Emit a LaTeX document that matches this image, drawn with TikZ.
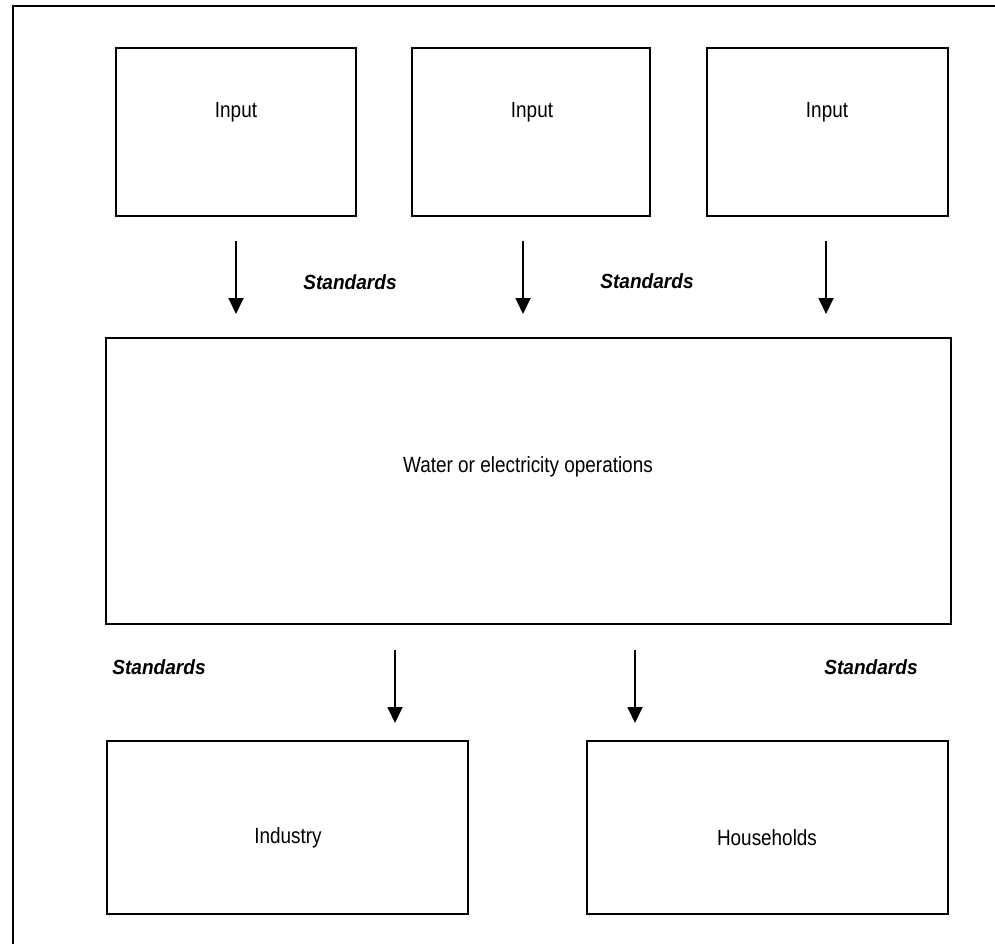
\documentclass[tikz,border=0pt]{standalone}
\usepackage{fontspec}
\setmainfont{Liberation Sans}
\newfontfamily\narrowfont[FakeStretch=0.86]{Liberation Sans}
\newfontfamily\stdfont[FakeStretch=0.93]{Liberation Sans}
\usetikzlibrary{arrows.meta}
\begin{document}
\begin{tikzpicture}[x=1pt,y=-1pt,
  box/.style={draw=black,line width=1.4pt,inner sep=0pt},
  boxtext/.style={font=\narrowfont\fontsize{22}{24}\selectfont},
  stdlabel/.style={font=\stdfont\fontsize{20.5}{24}\selectfont\bfseries\itshape},
  flow/.style={line width=1.8pt,-{Triangle[width=15pt,length=16pt]}}]
\useasboundingbox (0,0) rectangle (995,944);
\draw[line width=1.4pt] (13,944) -- (13,6) -- (995,6);
% top boxes
\draw[box] (116,48) rectangle (356,216);
\draw[box] (412,48) rectangle (650,216);
\draw[box] (707,48) rectangle (948,216);
\node[boxtext] (in1) at (236,112) {Input};
\node[boxtext] (in2) at (532,112) {Input};
\node[boxtext] (in3) at (827,112) {Input};
% main box
\draw[box] (106,338) rectangle (951,624);
\node[boxtext] (ops) at (528,467) {Water or electricity operations};
% bottom boxes
\draw[box] (107,741) rectangle (468,914);
\draw[box] (587,741) rectangle (948,914);
\node[boxtext] (ind) at (288,838) {Industry};
\node[boxtext] (hh) at (767,838) {Households};
% arrows
\coordinate (a1s) at (236,241); \coordinate (a1e) at (236,314);
\coordinate (a2s) at (523,241); \coordinate (a2e) at (523,314);
\coordinate (a3s) at (826,241); \coordinate (a3e) at (826,314);
\coordinate (b1s) at (395,650); \coordinate (b1e) at (395,723);
\coordinate (b2s) at (635,650); \coordinate (b2e) at (635,723);
\draw[flow] (a1s) -- (a1e);
\draw[flow] (a2s) -- (a2e);
\draw[flow] (a3s) -- (a3e);
\draw[flow] (b1s) -- (b1e);
\draw[flow] (b2s) -- (b2e);
% labels
\node[stdlabel] (s1) at (350,282) {Standards};
\node[stdlabel] (s2) at (647,281) {Standards};
\node[stdlabel] (s3) at (159,667) {Standards};
\node[stdlabel] (s4) at (871,667) {Standards};
\end{tikzpicture}
\end{document}
